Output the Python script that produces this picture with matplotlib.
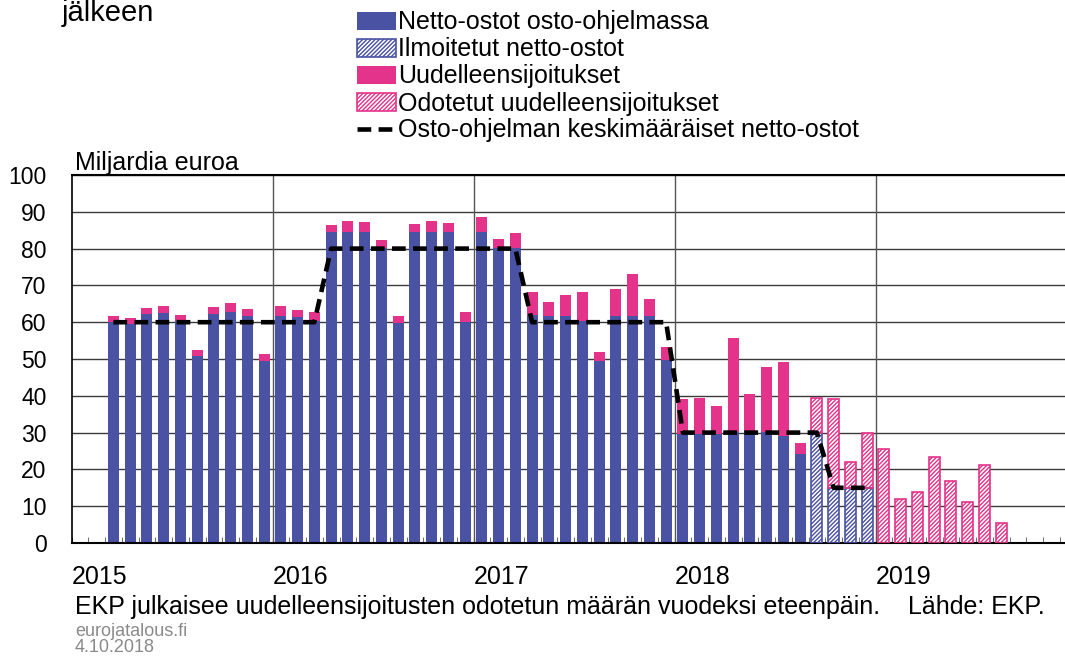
import matplotlib.pyplot as plt
import numpy as np
from matplotlib.patches import Patch
from matplotlib.lines import Line2D
from matplotlib.legend_handler import HandlerTuple

plt.rcParams['font.family'] = ['Liberation Sans', 'DejaVu Sans']
plt.rcParams['hatch.linewidth'] = 1.1

blue = '#4a52a3'
pink = '#e4338a'

# kuukausi-indeksi: 0 = tammikuu 2015
net_start = 2  # maaliskuu 2015
net = [60.1, 59.5, 62.2, 62.4, 60.4, 50.9, 62.2, 62.9, 61.8, 49.5,
       61.6, 61.3, 60.3, 84.5, 84.6, 84.5, 80.1, 59.8, 84.5, 84.6, 84.6, 60.1,
       84.4, 80.1, 80.1, 62.0, 61.8, 61.8, 60.4, 49.5, 61.8, 61.8, 61.8, 49.7,
       29.7, 29.5, 29.5, 30.1, 30.5, 30.1, 29.2, 24.2]
reinv = [1.7, 1.6, 1.6, 1.9, 1.6, 1.6, 1.8, 2.2, 1.8, 1.9,
         2.9, 2.0, 2.5, 1.8, 2.9, 2.6, 2.3, 2.0, 2.1, 2.9, 2.3, 2.6,
         4.2, 2.4, 4.1, 6.3, 3.6, 5.6, 7.9, 2.3, 7.2, 11.3, 4.5, 3.5,
         9.3, 9.9, 7.8, 25.6, 10.0, 17.6, 20.1, 2.9]
ann_start = 44  # syyskuu 2018
announced = [30, 15, 15, 15]
expected = [9.5, 24.0, 7.0, 14.8, 25.6, 11.9, 13.9, 23.3, 16.8, 11.2, 21.3, 5.4]
avg_levels = [60, 80, 60, 30, 15]
avg_lengths = [13, 12, 9, 9, 3]

years = ['2015', '2016', '2017', '2018', '2019']

x_net = np.arange(net_start, net_start + len(net)) + 0.5
x_ann = np.arange(ann_start, ann_start + len(announced)) + 0.5
x_exp = np.arange(ann_start, ann_start + len(expected)) + 0.5
exp_bottom = np.zeros(len(expected))
exp_bottom[:len(announced)] = announced
avg = np.repeat(avg_levels, avg_lengths)
x_avg = np.arange(net_start, net_start + len(avg)) + 0.5

fig = plt.figure(figsize=(10.65, 6.58), dpi=100)
ax = fig.add_axes([71.5/1065, 115/658, 1005/1065, 368/658])

bw = 0.66
hatch = '////////'
ax.bar(x_net, net, bw, color=blue, zorder=2)
ax.bar(x_net, reinv, bw, bottom=net, color=pink, zorder=2)
ax.bar(x_ann, announced, bw, color=blue, edgecolor='white', hatch=hatch, lw=0, zorder=2)
ax.bar(x_ann, announced, bw, fill=False, edgecolor=blue, lw=1.2, zorder=3)
ax.bar(x_exp, expected, bw, bottom=exp_bottom, color=pink, edgecolor='white',
       hatch=hatch, lw=0, zorder=2)
ax.bar(x_exp, expected, bw, bottom=exp_bottom, fill=False, edgecolor=pink, lw=1.2, zorder=3)
ax.plot(x_avg, avg, color='black', lw=3.3, ls=(0, (3, 1.6)), zorder=4)

ax.set_xlim(0, 60)
ax.set_ylim(0, 100)
ax.set_yticks(np.arange(0, 101, 10))
ax.yaxis.grid(True, color='#3a3a3a', lw=1)
ax.set_axisbelow(True)
for yr in [12, 24, 36, 48]:
    ax.axvline(yr, color='#555555', lw=1, zorder=1)

ax.set_xticks([0, 12, 24, 36, 48])
ax.set_xticklabels(years)
for lab in ax.get_xticklabels():
    lab.set_horizontalalignment('left')
ax.set_xticks(np.arange(0, 61), minor=True)
ax.tick_params(axis='x', which='both', direction='in', length=4, color='#555555',
               labelsize=18, pad=16)
ax.tick_params(axis='y', length=0, pad=18, labelsize=16.5)

ax.spines['right'].set_visible(False)
ax.spines['top'].set_color('black')
ax.spines['top'].set_linewidth(1.5)
ax.spines['left'].set_linewidth(1.2)
ax.spines['bottom'].set_linewidth(1.5)

handles = [
    Patch(facecolor=blue),
    (Patch(facecolor=blue, edgecolor='white', hatch=hatch, lw=0),
     Patch(fill=False, edgecolor=blue, lw=1.2)),
    Patch(facecolor=pink),
    (Patch(facecolor=pink, edgecolor='white', hatch=hatch, lw=0),
     Patch(fill=False, edgecolor=pink, lw=1.2)),
    Line2D([0], [0], color='black', lw=3.3, ls=(0, (3, 1.6))),
]
labels = ['Netto-ostot osto-ohjelmassa', 'Ilmoitetut netto-ostot', 'Uudelleensijoitukset',
          'Odotetut uudelleensijoitukset', 'Osto-ohjelman keskimääräiset netto-ostot']
fig.legend(handles, labels, loc='upper left', bbox_to_anchor=(0.3255, 1.0), frameon=False,
           fontsize=18, handlelength=1.55, handleheight=0.75, handletextpad=0.1,
           labelspacing=0.12, borderpad=0.42, borderaxespad=0,
           handler_map={tuple: HandlerTuple(ndivide=1)})

fig.text(62/1065, 1 - 21/658, 'jälkeen', fontsize=21, va='baseline', ha='left')
fig.text(75/1065, 1 - 163/658, 'Miljardia euroa', fontsize=18, va='center', ha='left')
fig.text(75/1065, 1 - 607/658, 'EKP julkaisee uudelleensijoitusten odotetun määrän vuodeksi eteenpäin.',
         fontsize=18, va='center', ha='left')
fig.text(1045/1065, 1 - 607/658, 'Lähde: EKP.', fontsize=18, va='center', ha='right')
fig.text(75/1065, 1 - 631/658, 'eurojatalous.fi', fontsize=13, va='center', ha='left', color='#8a8a8a')
fig.text(75/1065, 1 - 648/658, '4.10.2018', fontsize=13, va='center', ha='left', color='#8a8a8a')

fig.savefig('out.png', dpi=100)
